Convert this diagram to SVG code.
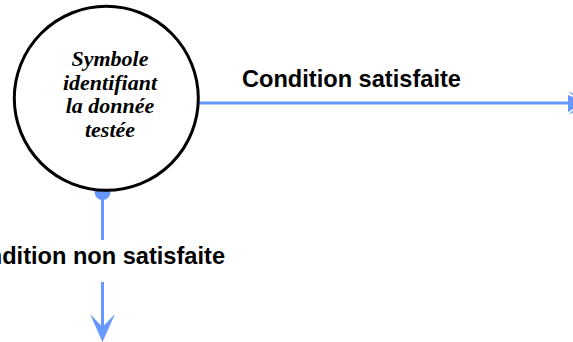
<svg xmlns="http://www.w3.org/2000/svg" width="573" height="342" viewBox="0 0 573 342">
<style>
.conn{stroke:#6699ff;stroke-width:3;fill:none}
.head{fill:#6699ff;stroke:none}
.lbl{font-family:"Liberation Sans",Arial,sans-serif;font-weight:bold;font-size:23.6px;fill:#000}
.node{font-family:"Liberation Serif","Times New Roman",serif;font-weight:bold;font-style:italic;font-size:22px;fill:#000;text-anchor:middle}
</style>
<rect width="573" height="342" fill="#fff"/>
<g id="connectors">
<circle class="head" cx="102.5" cy="192" r="8"/>
<line class="conn" x1="102.5" y1="192" x2="102.5" y2="240"/>
<line class="conn" x1="102.5" y1="282" x2="102.5" y2="328"/>
<path class="head" d="M102.5,342 L90,314 L102.5,327 L115,314 Z"/>
<line class="conn" x1="199" y1="103" x2="569" y2="103"/>
<path class="head" d="M593,103 L568,91 L581,103 L568,115 Z"/>
<path class="head" d="M568,95 L573,97 L573,109 L568,112 Z"/>
<text class="lbl" x="242" y="87">Condition satisfaite</text>
<text class="lbl" x="225" y="264" text-anchor="end">Condition non satisfaite</text>
</g>
<g id="decision">
<circle cx="106.3" cy="98.3" r="92" fill="#fff" stroke="#000" stroke-width="3"/>
<text class="node" x="110" y="66">Symbole</text>
<text class="node" x="110" y="89.5">identifiant</text>
<text class="node" x="110" y="113">la donnée</text>
<text class="node" x="110" y="136.5">testée</text>
</g>
</svg>
